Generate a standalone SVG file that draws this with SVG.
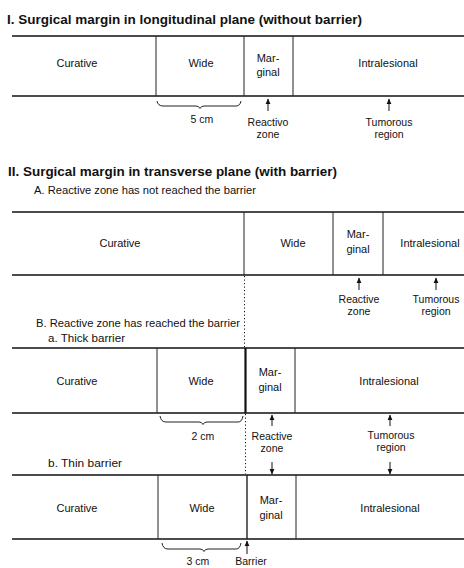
<svg xmlns="http://www.w3.org/2000/svg" width="464" height="568" viewBox="0 0 464 568">
<defs>
<marker id="ah" markerWidth="6" markerHeight="6" refX="5" refY="3" orient="auto" markerUnits="userSpaceOnUse">
<path d="M0,0.6 L5.5,3 L0,5.4 Z" fill="#111"/>
</marker>
<style>
text{font-family:"Liberation Sans",Arial,sans-serif;fill:#111}
.t{font-size:12px;font-weight:bold}
.s{font-size:10px}
.b{font-size:11px;text-anchor:middle}
.l{font-size:10.5px;text-anchor:middle}
.h{stroke:#111;stroke-width:1.5;fill:none}
.v{stroke:#222;stroke-width:1;fill:none}
.k{stroke:#111;stroke-width:2.2;fill:none}
.d{stroke:#111;stroke-width:1;stroke-dasharray:1.2 2.3;fill:none}
.a{stroke:#111;stroke-width:1;fill:none;marker-end:url(#ah)}
.br{stroke:#222;stroke-width:1;fill:none}
</style>
</defs>
<rect width="464" height="568" fill="#fff"/>

<g id="titles">
<text class="t" x="7" y="24" textLength="355" lengthAdjust="spacingAndGlyphs">I.  Surgical margin in longitudinal plane (without barrier)</text>
<text class="t" x="8" y="176" textLength="329" lengthAdjust="spacingAndGlyphs">II.  Surgical margin in transverse plane (with barrier)</text>
<text class="s" x="34" y="194" textLength="222" lengthAdjust="spacingAndGlyphs">A. Reactive zone has not reached the barrier</text>
<text class="s" x="36" y="327" textLength="204" lengthAdjust="spacingAndGlyphs">B. Reactive zone has reached the barrier</text>
<text class="s" x="48" y="342" textLength="77" lengthAdjust="spacingAndGlyphs">a. Thick barrier</text>
<text class="s" x="48" y="467" textLength="74" lengthAdjust="spacingAndGlyphs">b. Thin barrier</text>
</g>

<g id="band-longitudinal">
<line class="h" x1="12" y1="36" x2="464" y2="36"/>
<line class="h" x1="12" y1="96" x2="464" y2="96"/>
<line class="v" x1="156" y1="36" x2="156" y2="96"/>
<line class="v" x1="244" y1="36" x2="244" y2="96"/>
<line class="v" x1="293" y1="36" x2="293" y2="96"/>
<text class="b" x="77" y="67">Curative</text>
<text class="b" x="201" y="67">Wide</text>
<text class="b" x="268" y="62">Mar-</text>
<text class="b" x="268" y="76">ginal</text>
<text class="b" x="388" y="67">Intralesional</text>
</g>

<g id="band-A">
<line class="h" x1="12" y1="212" x2="464" y2="212"/>
<line class="h" x1="12" y1="275" x2="464" y2="275"/>
<line class="v" x1="244" y1="212" x2="244" y2="275"/>
<line class="v" x1="333" y1="212" x2="333" y2="275"/>
<line class="v" x1="383" y1="212" x2="383" y2="275"/>
<text class="b" x="120" y="247">Curative</text>
<text class="b" x="293" y="247">Wide</text>
<text class="b" x="358" y="238">Mar-</text>
<text class="b" x="358" y="253">ginal</text>
<text class="b" x="430" y="247">Intralesional</text>
</g>

<g id="band-thick">
<line class="h" x1="12" y1="348" x2="464" y2="348"/>
<line class="h" x1="12" y1="413" x2="464" y2="413"/>
<line class="v" x1="157" y1="348" x2="157" y2="413"/>
<line class="k" x1="245.5" y1="348" x2="245.5" y2="413"/>
<line class="v" x1="295" y1="348" x2="295" y2="413"/>
<text class="b" x="77" y="385">Curative</text>
<text class="b" x="201" y="385">Wide</text>
<text class="b" x="270" y="376">Mar-</text>
<text class="b" x="270" y="391">ginal</text>
<text class="b" x="389" y="385">Intralesional</text>
</g>

<g id="band-thin">
<line class="h" x1="12" y1="475" x2="464" y2="475"/>
<line class="h" x1="12" y1="539" x2="464" y2="539"/>
<line class="v" x1="158" y1="475" x2="158" y2="539"/>
<line class="v" x1="247" y1="475" x2="247" y2="539" style="stroke-width:1.4"/>
<line class="v" x1="296" y1="475" x2="296" y2="539"/>
<text class="b" x="77" y="512">Curative</text>
<text class="b" x="202" y="512">Wide</text>
<text class="b" x="271" y="504">Mar-</text>
<text class="b" x="271" y="519">ginal</text>
<text class="b" x="390" y="512">Intralesional</text>
</g>

<g id="connectors">
<line class="d" x1="244.5" y1="276" x2="244.5" y2="347"/>
<line class="d" x1="245.5" y1="414" x2="245.5" y2="474"/>
<path class="br" d="M157,101 Q158,106 163,106 L196,106 Q199,106 200,108.5 Q201,106 204,106 L236,106 Q240,106 241,101"/>
<path class="br" d="M160,416 Q161,422 166,422 L199,422 Q202,422 203,424.5 Q204,422 207,422 L238,422 Q242,422 243,416"/>
<path class="br" d="M162,543 Q163,549 168,549 L200,549 Q203,549 204,551.5 Q205,549 208,549 L236,549 Q240,549 241,543"/>
<line class="a" x1="268" y1="111" x2="268" y2="99"/>
<line class="a" x1="389" y1="111" x2="389" y2="99"/>
<line class="a" x1="359" y1="290" x2="359" y2="278"/>
<line class="a" x1="436" y1="290" x2="436" y2="278"/>
<line class="a" x1="272" y1="426" x2="272" y2="415"/>
<line class="a" x1="390" y1="426" x2="390" y2="415"/>
<line class="a" x1="272" y1="462" x2="272" y2="474"/>
<line class="a" x1="390" y1="462" x2="390" y2="474"/>
<line class="a" x1="247" y1="554" x2="247" y2="541"/>
</g>

<g id="labels">
<text class="l" x="202" y="123">5 cm</text>
<text class="l" x="268" y="126">Reactivo</text>
<text class="l" x="268" y="138">zone</text>
<text class="l" x="389" y="126">Tumorous</text>
<text class="l" x="389" y="138">region</text>
<text class="l" x="359" y="303">Reactive</text>
<text class="l" x="359" y="315">zone</text>
<text class="l" x="436" y="303">Tumorous</text>
<text class="l" x="436" y="315">region</text>
<text class="l" x="203" y="440">2 cm</text>
<text class="l" x="272" y="440">Reactive</text>
<text class="l" x="272" y="452">zone</text>
<text class="l" x="391" y="439">Tumorous</text>
<text class="l" x="391" y="451">region</text>
<text class="l" x="198" y="565">3 cm</text>
<text class="l" x="251" y="565">Barrier</text>
</g>
</svg>
